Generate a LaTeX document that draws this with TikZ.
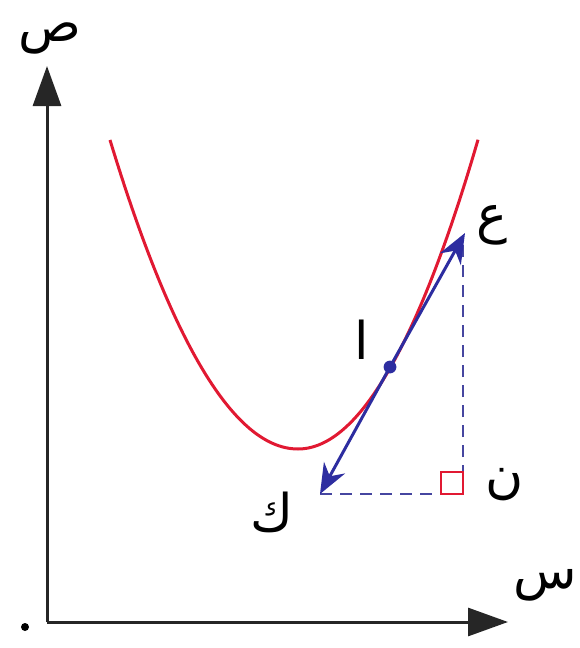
\documentclass[tikz,border=0pt]{standalone}
\usepackage{fontspec}
\newfontfamily\arabicfont[Script=Arabic]{DejaVu Sans}
\TeXXeTstate=1
\usetikzlibrary{arrows.meta}
\definecolor{curvered}{RGB}{225,25,50}
\definecolor{tanblue}{RGB}{45,45,160}
\definecolor{dashblue}{RGB}{70,70,160}
\begin{document}
\begin{tikzpicture}[x=0.5pt,y=-0.5pt,
  axis/.style={line width=1.5pt,black!85,-{Triangle[length=20pt,width=14pt]}},
  lbl/.style={font=\arabicfont\fontsize{26}{28}\selectfont,inner sep=0pt},
  tangent/.style={line width=1.5pt,tanblue,-{Stealth[length=15pt,width=12pt]}},
  dashline/.style={line width=1.3pt,dashblue,dash pattern=on 6pt off 4pt}]
\useasboundingbox (0,0) rectangle (579,648);
% axes
\coordinate (O) at (47,622);
\coordinate (Ytip) at (47,66);
\coordinate (Xtip) at (508,622);
\draw[axis] (O) -- (Ytip);
\draw[axis] (O) -- (Xtip);
\fill (25,627) circle (2pt);
\node[lbl] (ys) at (50,38) {\beginR ص\endR};
\node[lbl] (xs) at (545,585) {\beginR س\endR};
% curve
\draw[curvered,line width=1.5pt] plot[domain=110:298,samples=60] (\x,{449-((\x-298)*0.0935)^2})
  -- plot[domain=298:478,samples=60] (\x,{449-((\x-298)*0.0977)^2});
% points
\coordinate (K) at (320,494);
\coordinate (E) at (465,233);
\coordinate (N) at (463,494);
\coordinate (A) at (390,367);
% dashed
\draw[dashline] (K) -- (N) -- (463,245);
\draw[curvered,line width=0.8pt] (441,472) rectangle (463,494);
% tangent
\draw[tangent] (A) -- (E);
\draw[tangent] (A) -- (K);
\fill[tanblue] (A) circle (3.2pt);
% labels
\node[lbl] (le) at (492,225) {\beginR ع\endR};
\node[lbl] (la) at (362,340) {\beginR ا\endR};
\node[lbl] (lk) at (272,512) {\beginR ك\endR};
\node[lbl] (ln) at (505,485) {\beginR ن\endR};
\end{tikzpicture}
\end{document}
